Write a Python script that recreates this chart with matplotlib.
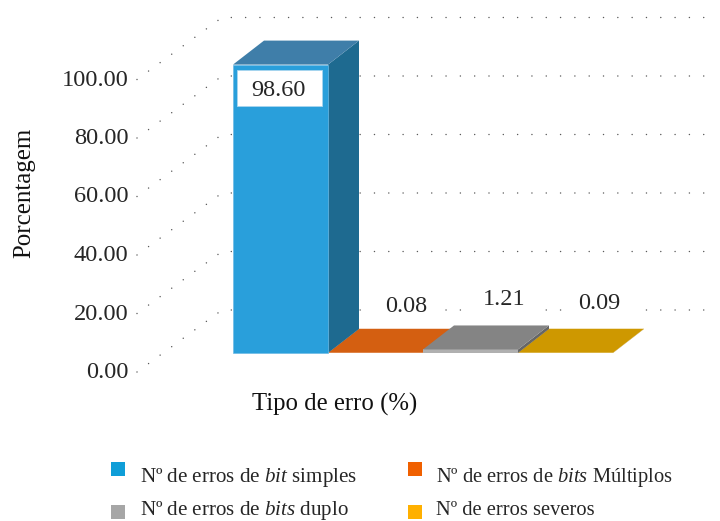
import matplotlib
matplotlib.use("Agg")
import matplotlib.pyplot as plt
from matplotlib.patches import Polygon, Rectangle
from matplotlib.transforms import ScaledTranslation

plt.rcParams["font.family"] = "Liberation Serif"
plt.rcParams["mathtext.fontset"] = "custom"
plt.rcParams["mathtext.rm"] = "Liberation Serif"
plt.rcParams["mathtext.it"] = "Liberation Serif:italic"

# Error shares (%)
series_labels = [
    "Nº de erros de $\\mathit{bit}$ simples",
    "Nº de erros de $\\mathit{bits}$ Múltiplos",
    "Nº de erros de $\\mathit{bits}$ duplo",
    "Nº de erros severos",
]
values = [98.60, 0.08, 1.21, 0.09]
value_text = ["98.60", "0.08", "1.21", "0.09"]
y_ticks = [0, 20, 40, 60, 80, 100]

# Face colours of each 3D bar
front_colors = ["#299FDB", "#E0660F", "#B0B0B0", "#E6A800"]
top_colors = ["#3F7EA9", "#D45F11", "#848484", "#CE9800"]
side_colors = ["#1E6A90", "#A34A0D", "#666666", "#A07700"]
legend_colors = ["#0F9ED8", "#F06000", "#A6A6A6", "#FFB000"]

W, H = 720, 521
PX_CAT, PX_UNIT = 95.0, 2.925
WALL_X, WALL_Y = 137.0, 372.0
TEXT = "#262626"

fig = plt.figure(figsize=(W / 100, H / 100), dpi=100)
ax = fig.add_axes([WALL_X / W, 1 - WALL_Y / H, 1 - WALL_X / W, WALL_Y / H])
ax.set_xlim(0, (W - WALL_X) / PX_CAT)
ax.set_ylim(0, WALL_Y / PX_UNIT)
for s in ax.spines.values():
    s.set_visible(False)

# Depth offsets expressed in axis units
wall_dx, wall_dy = 85 / PX_CAT, 62 / PX_UNIT
bar_dx, bar_dy = 31 / PX_CAT, 24 / PX_UNIT
bar_x0, bar_y0 = (233 - WALL_X) / PX_CAT, (372 - 353) / PX_UNIT

# Dotted floor/wall guides: diagonal on the left, then running along the back
dot_lw = 1.1
gap = 14.3 * 0.72 / dot_lw
for v in y_ticks:
    ax.plot([0, wall_dx, ax.get_xlim()[1] - 4 / PX_CAT],
            [v, v + wall_dy, v + wall_dy],
            color="#5A5A5A", lw=dot_lw, linestyle=(0, (0.01, gap)),
            dash_capstyle="round", zorder=1, clip_on=False)

for i, v in enumerate(values):
    x0, x1 = bar_x0 + i, bar_x0 + i + 1
    y0, y1 = bar_y0, bar_y0 + v
    front = [(x0, y0), (x1, y0), (x1, y1), (x0, y1)]
    top = [(x0, y1), (x1, y1), (x1 + bar_dx, y1 + bar_dy), (x0 + bar_dx, y1 + bar_dy)]
    side = [(x1, y0), (x1 + bar_dx, y0 + bar_dy), (x1 + bar_dx, y1 + bar_dy), (x1, y1)]
    z = 3 + (2 if i == 2 else 0) - 0.1 * i
    edge = "#6DBBE6" if i == 0 else "none"
    ax.add_patch(Polygon(side, fc=side_colors[i], ec="none", zorder=z))
    ax.add_patch(Polygon(front, fc=front_colors[i], ec=edge, lw=0.5, zorder=z))
    ax.add_patch(Polygon(top, fc=top_colors[i], ec="none", zorder=z))

# Label on the tall bar sits in a white box just under the bar top
box_w, box_h = 85 / PX_CAT, 36 / PX_UNIT
box_x = bar_x0 + 4 / PX_CAT
box_top = bar_y0 + values[0] - 5 / PX_UNIT
ax.add_patch(Rectangle((box_x, box_top - box_h), box_w, box_h, fc="white",
                       ec="#A9D6EF", lw=0.6, zorder=7))
ax.text(box_x + box_w / 2 - 1.5 / PX_CAT, box_top - box_h / 2, value_text[0],
        ha="center", va="center_baseline", fontsize=17.5, color=TEXT, zorder=8)

# Flat bars carry their labels above, masking the guide dots behind them
label_rise = [0, 25, 28, 28]
label_shift = [0, 0.32, 0.35, 0.36]
for i in range(1, 4):
    lx = bar_x0 + i + 0.5 + label_shift[i]
    ly = bar_y0 + values[i] + bar_dy + label_rise[i] / PX_UNIT
    ax.add_patch(Rectangle((lx - 35 / PX_CAT, ly - 14 / PX_UNIT), 70 / PX_CAT, 28 / PX_UNIT,
                           fc="white", ec="none", zorder=2))
    ax.text(lx, ly, value_text[i], ha="center", va="center_baseline",
            fontsize=17.5, color=TEXT, zorder=8)

ax.set_xticks([])
ax.set_yticks(y_ticks)
ax.set_yticklabels([f"{t:.2f}" for t in y_ticks], fontsize=17.6, color=TEXT)
ax.tick_params(axis="y", length=0, pad=6)
lift = ScaledTranslation(0, 2 / 100, fig.dpi_scale_trans)
for lab in ax.get_yticklabels():
    lab.set_transform(lab.get_transform() + lift)
ax.set_ylabel("Porcentagem", fontsize=17.9, color="#111111", va="center")
ax.yaxis.set_label_coords((24 - WALL_X) / (W - WALL_X), (372 - 193) / 372)
ax.set_xlabel("Tipo de erro (%)", fontsize=17.8, color="#111111", va="center")
ax.xaxis.set_label_coords((335 - WALL_X) / (W - WALL_X), (372 - 404) / 372)

# Two-column key: squares and their captions keep separate row pitches
swatch_x = [111, 408, 111, 408]
swatch_y = [462, 462, 505, 505]
caption_x = [140.5, 435.5, 140.5, 435.5]
caption_y = [482, 482, 515, 515]
caption_size = [15.1, 14.8, 15.1, 14.8]
for j, label in enumerate(series_labels):
    fig.add_artist(Rectangle((swatch_x[j] / W, 1 - (swatch_y[j] + 13.5) / H), 13.5 / W, 13.5 / H,
                             transform=fig.transFigure, fc=legend_colors[j], ec="none"))
    fig.text(caption_x[j] / W, 1 - caption_y[j] / H, label, fontsize=caption_size[j],
             color=TEXT, ha="left", va="baseline")

fig.savefig("out.png", dpi=100)
